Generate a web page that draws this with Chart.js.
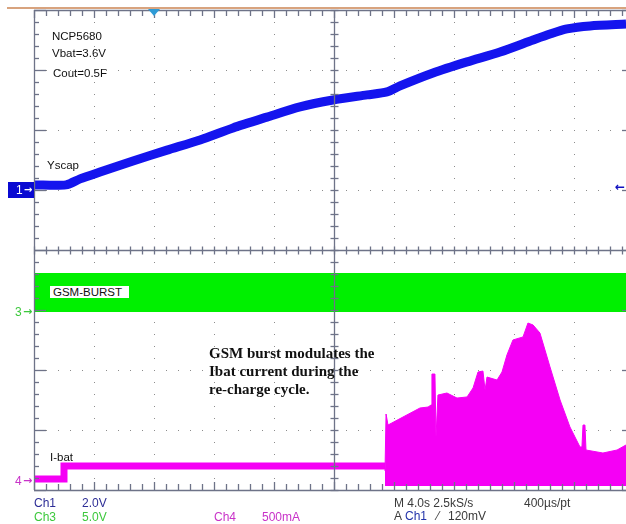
<!DOCTYPE html>
<html>
<head>
<meta charset="utf-8">
<script src="https://cdn.jsdelivr.net/npm/chart.js@4/dist/chart.umd.min.js"></script>
<style>
html,body{margin:0;padding:0;background:#fff;overflow:hidden;width:626px;height:524px}
#wrap{position:relative;width:626px;height:524px;overflow:hidden;background:#fff}
#c{position:absolute;left:0;top:0}
.t{position:absolute;font-family:"Liberation Sans",Arial,sans-serif;font-size:11.5px;line-height:12px;white-space:nowrap;color:#111}
.b{font-size:12px}
.ar{font-family:"DejaVu Sans",sans-serif;font-size:11px;font-weight:bold}
.note{position:absolute;left:209px;top:344px;font-family:"Liberation Serif","Times New Roman",serif;font-weight:bold;font-size:15px;line-height:18px;color:#111;white-space:nowrap}
.c1{color:#2d2d96}.c3{color:#3cc83c}.c4{color:#c832c8}.cm{color:#3a3a3a}
#m1{position:absolute;left:8px;top:182px;width:26px;height:16px;background:#0a0ad2;color:#fff;font-family:"Liberation Sans",Arial,sans-serif;font-size:12px;line-height:16px}
#gsm{position:absolute;left:50px;top:286px;width:76px;height:12px;padding-left:3px;background:#fff}
</style>
</head>
<body>
<div id="wrap">
<canvas id="c" width="640" height="524"></canvas>

<div class="t" style="left:52px;top:30px">NCP5680</div>
<div class="t" style="left:52px;top:47px">Vbat=3.6V</div>
<div class="t" style="left:53px;top:67px">Cout=0.5F</div>
<div class="t" style="left:47px;top:159px">Yscap</div>
<div id="m1"><span style="position:absolute;left:8px;top:0">1</span><span class="ar" style="position:absolute;left:16px;top:0;line-height:16px;font-size:10px">&#8594;</span></div>
<div class="t ar" style="left:615px;top:181px;color:#1010c0;font-size:12px">&#8592;</div>

<div class="t" id="gsm">GSM-BURST</div>
<div class="t c3" style="left:15px;top:306px;font-size:12px">3</div>
<div class="t c3 ar" style="left:23px;top:306px">&#8594;</div>
<div class="t" style="left:50px;top:451px">I-bat</div>
<div class="t c4" style="left:15px;top:475px;font-size:12px">4</div>
<div class="t c4 ar" style="left:23px;top:475px">&#8594;</div>

<div class="note">GSM burst modulates the<br>Ibat current during the<br>re-charge cycle.</div>

<div class="t b c1" style="left:34px;top:497px">Ch1</div>
<div class="t b c1" style="left:82px;top:497px">2.0V</div>
<div class="t b c3" style="left:34px;top:511px">Ch3</div>
<div class="t b c3" style="left:82px;top:511px">5.0V</div>
<div class="t b c4" style="left:214px;top:511px">Ch4</div>
<div class="t b c4" style="left:262px;top:511px">500mA</div>
<div class="t b cm" style="left:394px;top:497px">M 4.0s 2.5kS/s</div>
<div class="t b cm" style="left:524px;top:497px">400µs/pt</div>
<div class="t b cm" style="left:394px;top:510px">A</div>
<div class="t b" style="left:405px;top:510px;color:#2233aa">Ch1</div>
<div class="t b cm" style="left:437px;top:510px">&#8260;</div>
<div class="t b cm" style="left:448px;top:510px">120mV</div>
</div>

<script>
// ---- Data read from the scope capture ----
// Time base: 4.0 s/div, 10 divisions
const timeDivS = 4.0;
const divisions = 10;
// Ch1: Yscap (V), 2.0 V/div, ground at 5 div from bottom
const ch1Time  = [0, 2.13, 3.07, 4.4, 6.6, 8.87, 11.07, 13.27, 15.53, 17.73, 19.93, 22.2, 23.53, 24.4, 26.6, 28.87, 31.07, 33.27, 34.4, 35.53, 37.07, 39.47];
const ch1Volts = [0.17, 0.17, 0.37, 0.60, 0.97, 1.33, 1.67, 2.07, 2.43, 2.77, 3.00, 3.17, 3.27, 3.47, 3.90, 4.27, 4.60, 5.00, 5.20, 5.37, 5.47, 5.53];
// Ch3: GSM-BURST (V), 5.0 V/div, ground at 3 div — envelope of the burst signal
const ch3Time  = [0, 40];
const ch3High  = [3.08, 3.08];
const ch3Low   = [-0.17, -0.17];
// Ch4: I-bat (mA), 500 mA/div
const ch4IdleTime = [0, 2.0, 2.0, 23.4];
const ch4IdleMA   = [8, 8, 117, 117];
const ch4BurstTime = [23.40, 23.47, 23.53, 23.60, 24.60, 25.73, 26.27, 26.47, 26.53, 26.73, 26.80, 26.93, 27.53, 28.20, 28.87, 29.27, 29.60, 29.93, 30.07, 30.20, 30.87, 31.20, 31.53, 31.93, 32.60, 32.93, 33.27, 33.73, 34.40, 35.07, 35.73, 36.40, 36.53, 36.60, 36.73, 36.80, 37.93, 38.87, 39.47];
const ch4BurstPeakMA = [75, 550, 550, 458, 525, 600, 608, 625, 883, 883, 358, 708, 725, 683, 692, 767, 900, 908, 750, 858, 833, 900, 1042, 1167, 1192, 1308, 1292, 1225, 942, 667, 442, 275, 275, 458, 458, 250, 225, 250, 292];
const ch4BurstFloorMA = -50;
const triggerTime = 8; // trigger position marker (s)

const pts = (xs, ys) => xs.map((x, i) => ({x, y: ys[i]}));

const graticule = {
  id: 'graticule',
  beforeDatasetsDraw(chart) {
    const ctx = chart.ctx, xs = chart.scales.x, yd = chart.scales.yd;
    ctx.save();
    ctx.fillStyle = '#8c8c8c';
    for (let i = 1; i < divisions; i++) {
      if (i === divisions / 2) continue;
      const x = Math.round(xs.getPixelForValue(i * timeDivS));
      for (let k = 1; k < 40; k++) {
        const y = Math.round(yd.getPixelForValue(k * 0.2));
        ctx.fillRect(x, y, 1, 1);
      }
    }
    for (let j = 1; j < 8; j++) {
      if (j === 4) continue;
      const y = Math.round(yd.getPixelForValue(j));
      for (let k = 1; k < 50; k++) {
        const x = Math.round(xs.getPixelForValue(k * 0.2 * timeDivS));
        ctx.fillRect(x, y, 1, 1);
      }
    }
    ctx.restore();
  },
  afterDatasetsDraw(chart) {
    const ctx = chart.ctx, xs = chart.scales.x, yd = chart.scales.yd, a = chart.chartArea;
    ctx.save();
    ctx.strokeStyle = '#6e7388';
    ctx.lineWidth = 1.3;
    const line = (x1, y1, x2, y2) => { ctx.beginPath(); ctx.moveTo(x1, y1); ctx.lineTo(x2, y2); ctx.stroke(); };
    const cy = Math.round(yd.getPixelForValue(4)) + 0.5;
    const cx = Math.round(xs.getPixelForValue(divisions / 2 * timeDivS)) + 0.5;
    line(a.left, cy, a.right, cy);
    line(cx, a.top, cx, a.bottom);
    for (let k = 0; k <= 50; k++) {
      const x = Math.round(xs.getPixelForValue(k * 0.2 * timeDivS)) + 0.5;
      line(x, cy - 4, x, cy + 4);
      const maj = k % 5 === 0;
      line(x, a.top, x, a.top + (maj ? 8 : 6));
      line(x, a.bottom, x, a.bottom - (maj ? 8 : 6));
    }
    for (let k = 0; k <= 40; k++) {
      const y = Math.round(yd.getPixelForValue(k * 0.2)) + 0.5;
      line(cx - 4, y, cx + 4, y);
      const maj = k % 5 === 0;
      line(a.left, y, a.left + (maj ? 12 : 5), y);
      if (maj) line(a.right, y, a.right - 12, y);
    }
    line(a.left + 0.5, a.top, a.left + 0.5, a.bottom);
    line(a.left, a.bottom + 0.5, a.right, a.bottom + 0.5);
    line(a.left, a.top + 0.5, a.right, a.top + 0.5);
    // orange frame line
    ctx.strokeStyle = '#d8a37e';
    ctx.lineWidth = 2;
    line(7, 8, chart.width, 8);
    // trigger position marker
    const tx = xs.getPixelForValue(triggerTime);
    ctx.fillStyle = '#2e9bd6';
    ctx.beginPath();
    ctx.moveTo(tx - 6, a.top - 1); ctx.lineTo(tx + 6, a.top - 1); ctx.lineTo(tx, a.top + 6); ctx.closePath(); ctx.fill();
    ctx.restore();
  }
};

new Chart(document.getElementById('c'), {
  type: 'line',
  data: {
    datasets: [
      { data: pts(ch3Time, ch3Low), yAxisID: 'y3', borderWidth: 0, pointRadius: 0, fill: false, borderColor: 'rgba(0,0,0,0)' },
      { data: pts(ch3Time, ch3High), yAxisID: 'y3', borderWidth: 0, pointRadius: 0, borderColor: '#00f000', backgroundColor: '#00f000', fill: 0 },
      { data: pts(ch4IdleTime, ch4IdleMA), yAxisID: 'y4', borderWidth: 7, pointRadius: 0, borderColor: '#f500f5', fill: false, borderCapStyle: 'butt' },
      { data: pts(ch4BurstTime, ch4BurstPeakMA), yAxisID: 'y4', borderWidth: 1, pointRadius: 0, borderColor: '#f500f5', backgroundColor: '#f500f5', fill: { value: ch4BurstFloorMA } },
      { data: pts(ch1Time, ch1Volts), yAxisID: 'y1', borderWidth: 9, pointRadius: 0, borderColor: '#1414ee', fill: false, tension: 0.25, borderJoinStyle: 'round', borderCapStyle: 'butt' }
    ]
  },
  options: {
    responsive: false,
    animation: false,
    events: [],
    layout: { padding: { left: 34, right: 6, top: 10, bottom: 34 } },
    plugins: { legend: { display: false }, tooltip: { enabled: false } },
    elements: { line: { tension: 0 } },
    scales: {
      x:  { type: 'linear', min: 0, max: divisions * timeDivS, display: false },
      yd: { type: 'linear', min: 0, max: 8, display: false },
      y1: { type: 'linear', min: -10, max: 6, display: false },
      y3: { type: 'linear', min: -15, max: 25, display: false },
      y4: { type: 'linear', min: -500 / 6, max: 4000 - 500 / 6, display: false }
    }
  },
  plugins: [graticule]
});
</script>
</body>
</html>
